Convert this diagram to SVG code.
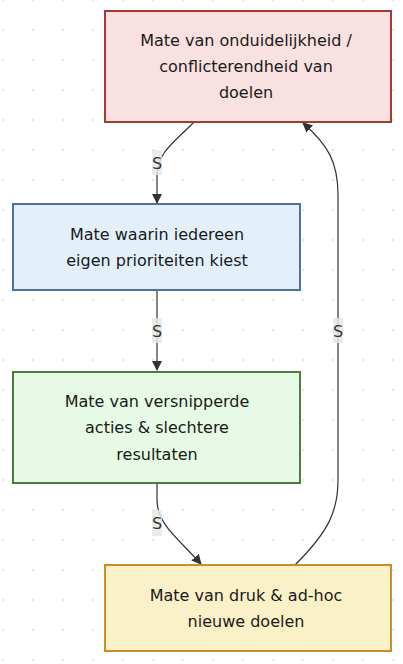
<svg xmlns="http://www.w3.org/2000/svg" width="403" height="664" viewBox="0 0 403 664">
<defs>
<pattern id="dots" x="3" y="0" width="30" height="30" patternUnits="userSpaceOnUse">
<circle cx="0" cy="0" r="1.1" fill="#dcdcdc"/>
<circle cx="30" cy="0" r="1.1" fill="#dcdcdc"/>
<circle cx="0" cy="30" r="1.1" fill="#dcdcdc"/>
<circle cx="30" cy="30" r="1.1" fill="#dcdcdc"/>
</pattern>
<marker id="arr" markerWidth="10" markerHeight="10" refX="9" refY="5" orient="auto" markerUnits="userSpaceOnUse">
<path d="M0,0 L10,5 L0,10 z" fill="#333"/>
</marker>
<style>
.lbl{font-family:"DejaVu Sans",Verdana,sans-serif;font-size:16px;fill:#1a1a1a;text-anchor:middle}
.el{font-family:"DejaVu Sans",Verdana,sans-serif;font-size:16px;fill:#333;text-anchor:middle}
.edge{fill:none;stroke:#333;stroke-width:1.2}
.lb{fill:#e8e8e8;opacity:0.85}
</style>
</defs>
<rect width="403" height="664" fill="#ffffff"/>
<rect width="403" height="664" fill="url(#dots)"/>
<g id="edges">
<path class="edge" d="M194,122 C175,142 157,152 157,176 L157,203" marker-end="url(#arr)"/>
<path class="edge" d="M157,290 L157,370" marker-end="url(#arr)"/>
<path class="edge" d="M157,483 L157,500 C157,525 180,540 201,564" marker-end="url(#arr)"/>
<path class="edge" d="M295,565 C328,532 338,512 338,480 L338,195 C338,162 328,145 303,123" marker-end="url(#arr)"/>
<rect class="lb" x="152" y="150" width="10" height="25"/>
<text class="el" x="157" y="169">S</text>
<rect class="lb" x="152" y="318" width="10" height="25"/>
<text class="el" x="157" y="337">S</text>
<rect class="lb" x="152" y="510" width="10" height="26"/>
<text class="el" x="157" y="529">S</text>
<rect class="lb" x="333" y="318" width="10" height="25"/>
<text class="el" x="338" y="337">S</text>
</g>
<g id="nodeA">
<rect x="105" y="11" width="286" height="111" fill="#f8e1e0" stroke="#a63a2e" stroke-width="2"/>
<text class="lbl" x="246" y="46">Mate van onduidelijkheid /</text>
<text class="lbl" x="246" y="72">conflicterendheid van</text>
<text class="lbl" x="246" y="98">doelen</text>
</g>
<g id="nodeB">
<rect x="13" y="204" width="287" height="86" fill="#e3f0fc" stroke="#4b72a0" stroke-width="2"/>
<text class="lbl" x="157" y="240">Mate waarin iedereen</text>
<text class="lbl" x="157" y="266">eigen prioriteiten kiest</text>
</g>
<g id="nodeC">
<rect x="13" y="372" width="287" height="111" fill="#e6fae5" stroke="#4f7a44" stroke-width="2"/>
<text class="lbl" x="157" y="407">Mate van versnipperde</text>
<text class="lbl" x="157" y="433">acties &amp; slechtere</text>
<text class="lbl" x="157" y="460">resultaten</text>
</g>
<g id="nodeD">
<rect x="105" y="565" width="286" height="86" fill="#fbf1c8" stroke="#d08b2c" stroke-width="2"/>
<text class="lbl" x="246" y="601">Mate van druk &amp; ad-hoc</text>
<text class="lbl" x="246" y="627">nieuwe doelen</text>
</g>
</svg>
